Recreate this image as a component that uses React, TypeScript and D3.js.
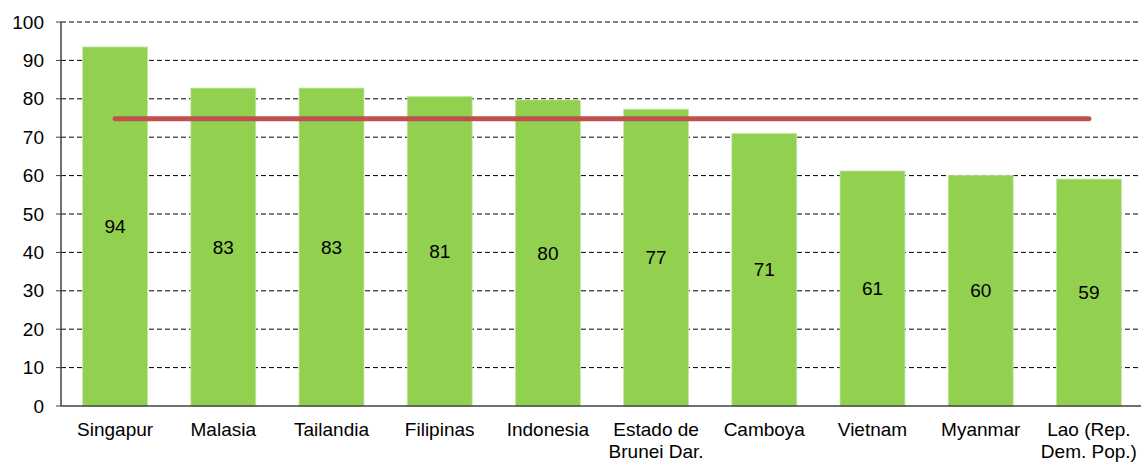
import React from "react";
import * as d3 from "d3";

const categories: string[][] = [
  ["Singapur"], ["Malasia"], ["Tailandia"], ["Filipinas"], ["Indonesia"],
  ["Estado de", "Brunei Dar."], ["Camboya"], ["Vietnam"], ["Myanmar"], ["Lao (Rep.", "Dem. Pop.)"],
];
const values: number[] = [93.5, 82.8, 82.8, 80.6, 79.7, 77.3, 71.0, 61.2, 60.1, 59.1];
const average: number = 74.8;
const yTicks: number[] = [0, 10, 20, 30, 40, 50, 60, 70, 80, 90, 100];

const W = 1141, H = 462;
const left = 61, right = 1143, top = 22, bottom = 406;

export default function App() {
  const x = d3.scaleBand<number>().domain(d3.range(categories.length)).range([left, right]).paddingInner(0.4).paddingOuter(0.2);
  const y = d3.scaleLinear().domain([0, 100]).range([bottom, top]);
  const font = "'Liberation Sans', Arial, sans-serif";
  const cx = (i: number) => (x(i) as number) + x.bandwidth() / 2;
  const line = d3.line<number>().x((_, i) => cx(i === 0 ? 0 : categories.length - 1)).y(() => y(average));
  return (
    <svg width={W} height={H} style={{ position: "absolute", left: 0, top: 0 }} fontFamily={font}>
      {yTicks.map((t) => (
        <g key={t}>
          {t > 0 && <line x1={left} x2={W} y1={y(t)} y2={y(t)} stroke="#000" strokeWidth={1} strokeDasharray="5,3" />}
          <line x1={left - 5} x2={left} y1={y(t)} y2={y(t)} stroke="#404040" />
          <text x={left - 17} y={y(t)} dy="0.35em" textAnchor="end" fontSize={19} fill="#000">{t}</text>
        </g>
      ))}
      {values.map((v, i) => (
        <g key={i}>
          <rect x={x(i)} y={y(v)} width={x.bandwidth()} height={bottom - y(v)} fill="#92D050" stroke="#C6E6A6" strokeWidth={0.8} />
        </g>
      ))}
      <path d={line([0, 1]) as string} stroke="#C0504D" strokeWidth={5} strokeLinecap="round" fill="none" />
      {values.map((v, i) => (
        <text key={i} x={cx(i)} y={y(v / 2)} dy="0.35em" textAnchor="middle" fontSize={19} fill="#000">{Math.round(v)}</text>
      ))}
      <line x1={left} x2={left} y1={top} y2={bottom} stroke="#404040" strokeWidth={1.5} />
      <line x1={left} x2={W} y1={bottom} y2={bottom} stroke="#404040" strokeWidth={1.5} />
      {categories.map((c, i) => (
        <text key={i} x={cx(i)} y={436} textAnchor="middle" fontSize={19} fill="#000">
          {c.map((s, j) => (
            <tspan key={j} x={cx(i)} dy={j === 0 ? 0 : 21.5}>{s}</tspan>
          ))}
        </text>
      ))}
    </svg>
  );
}
